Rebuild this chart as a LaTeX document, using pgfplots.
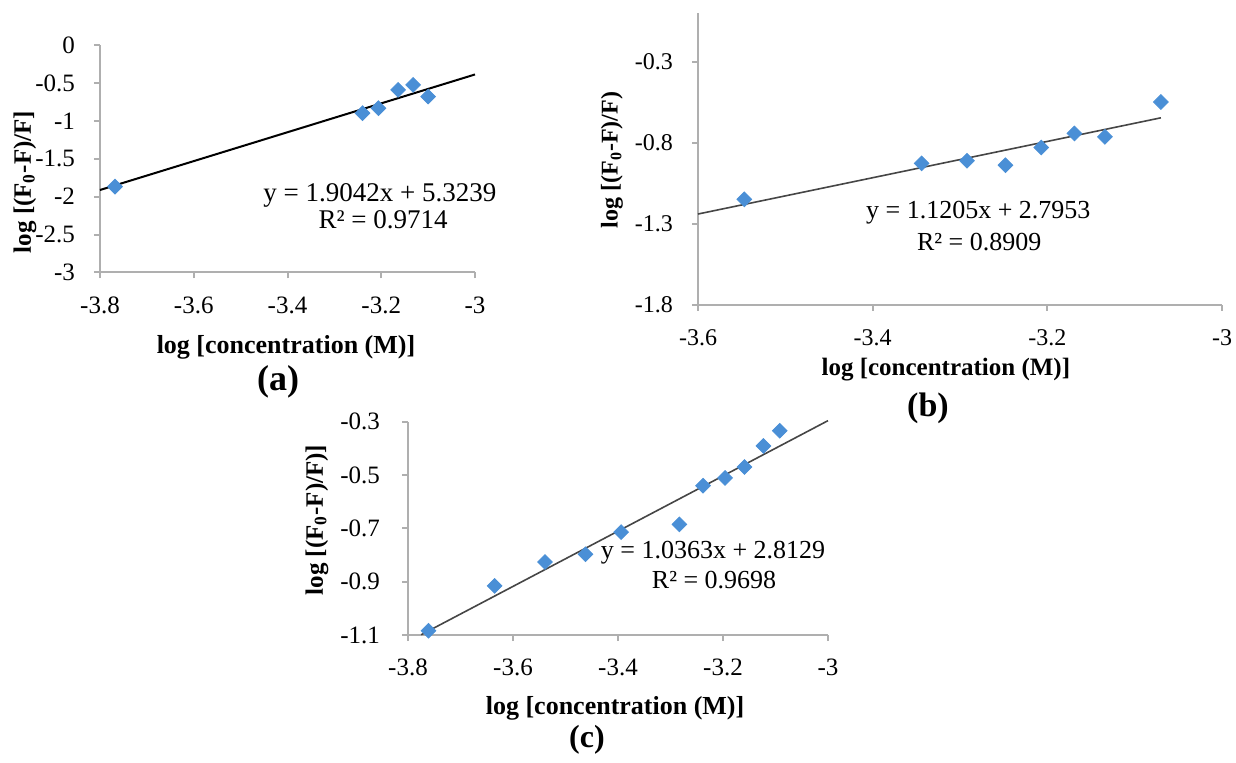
\documentclass[border=0pt]{standalone}
\usepackage{pgfplots}
\pgfplotsset{compat=1.18}
\usepackage{fontspec}
\setmainfont{Liberation Serif}
\definecolor{mk}{RGB}{74,143,214}
\definecolor{axgray}{RGB}{175,175,175}
\definecolor{tl}{RGB}{70,70,70}
\newcommand{\fs}[1]{\fontsize{#1}{#1}\selectfont}
\begin{document}
\begin{tikzpicture}
\useasboundingbox (0,0) rectangle (618pt,-381.5pt);
\pgfplotsset{
  panel/.style={
    scale only axis, anchor=south west, axis lines=left,
    axis line style={-, axgray, line width=1pt},
    tick style={axgray, line width=1pt}, tick align=outside, major tick length=3pt,
    clip=false,
    xticklabel style={anchor=center},
    yticklabel style={anchor=east},
  },
  dots/.style={only marks, mark=square*, mark size=2.6pt, color=mk,
    mark options={rotate=45, fill=mk, draw=mk}},
}
% (a)
\begin{axis}[panel, at={(50pt,-136.25pt)}, width=187.5pt, height=113.75pt,
  xmin=-3.8, xmax=-3, ymin=-3, ymax=0,
  xtick={-3.8,-3.6,-3.4,-3.2,-3}, xticklabels={-3.8,-3.6,-3.4,-3.2,-3},
  ytick={0,-0.5,-1,-1.5,-2,-2.5,-3}, yticklabels={0,-0.5,-1,-1.5,-2,-2.5,-3},
  ticklabel style={font=\fs{12.5}},
  xticklabel style={yshift=-13.5pt},
  yticklabel style={xshift=-6pt},
  xlabel={log [concentration (M)]},
  xlabel style={font=\bfseries\fs{13}, at={(axis description cs:0.496,-0.327)}, anchor=center},
  ylabel={log [(F\textsubscript{0}-F)/F]},
  ylabel style={font=\bfseries\fs{12.5}, at={(axis description cs:-0.2,0.398)}, anchor=center},
]
\addplot[dots] coordinates {(-3.768,-1.868) (-3.240,-0.899) (-3.206,-0.833) (-3.164,-0.592) (-3.132,-0.526) (-3.100,-0.680)};
\addplot[black, line width=1pt, no marks] coordinates {(-3.8,-1.9121) (-3.0,-0.3887)};
\node[font=\fs{13.5}] at (axis cs:-3.203,-1.978) {y = 1.9042x + 5.3239};
\node[font=\fs{13.5}] at (axis cs:-3.196,-2.308) {R² = 0.9714};
\end{axis}
% (b)
\begin{axis}[panel, at={(349pt,-152.5pt)}, width=262pt, height=145.8pt,
  xmin=-3.6, xmax=-3, ymin=-1.8, ymax=0,
  xtick={-3.6,-3.4,-3.2,-3}, xticklabels={-3.6,-3.4,-3.2,-3},
  ytick={-1.8,-1.3,-0.8,-0.3}, yticklabels={-1.8,-1.3,-0.8,-0.3},
  ticklabel style={font=\fs{12}},
  xticklabel style={yshift=-13.5pt},
  yticklabel style={xshift=-6pt},
  xlabel={log [concentration (M)]},
  xlabel style={font=\bfseries\fs{12.5}, at={(axis description cs:0.473,-0.223)}, anchor=center},
  ylabel={log [(F\textsubscript{0}-F)/F)},
  ylabel style={font=\bfseries\fs{12}, at={(axis description cs:-0.164,0.497)}, anchor=center},
]
\addplot[dots] coordinates {(-3.547,-1.148) (-3.344,-0.926) (-3.292,-0.910) (-3.248,-0.937) (-3.207,-0.828) (-3.169,-0.741) (-3.134,-0.762) (-3.070,-0.547)};
\addplot[tl, line width=0.8pt, no marks] coordinates {(-3.6,-1.2385) (-3.07,-0.6446)};
\node[font=\fs{13}] at (axis cs:-3.279,-1.232) {y = 1.1205x + 2.7953};
\node[font=\fs{13}] at (axis cs:-3.278,-1.411) {R² = 0.8909};
\end{axis}
% (c)
\begin{axis}[panel, at={(204pt,-317.5pt)}, width=210pt, height=106.65pt,
  xmin=-3.8, xmax=-3, ymin=-1.1, ymax=-0.3,
  xtick={-3.8,-3.6,-3.4,-3.2,-3}, xticklabels={-3.8,-3.6,-3.4,-3.2,-3},
  ytick={-1.1,-0.9,-0.7,-0.5,-0.3}, yticklabels={-1.1,-0.9,-0.7,-0.5,-0.3},
  ticklabel style={font=\fs{12.5}},
  xticklabel style={yshift=-13.3pt},
  yticklabel style={xshift=-7.5pt},
  xlabel={log [concentration (M)]},
  xlabel style={font=\bfseries\fs{13}, at={(axis description cs:0.493,-0.342)}, anchor=center},
  ylabel={log [(F\textsubscript{0}-F)/F)]},
  ylabel style={font=\bfseries\fs{12.5}, at={(axis description cs:-0.217,0.539)}, anchor=center},
]
\addplot[dots] coordinates {(-3.761,-1.084) (-3.635,-0.916) (-3.539,-0.826) (-3.462,-0.797) (-3.394,-0.714) (-3.283,-0.685) (-3.238,-0.540) (-3.196,-0.511) (-3.159,-0.470) (-3.123,-0.391) (-3.092,-0.334)};
\addplot[tl, line width=0.8pt, no marks] coordinates {(-3.775,-1.0991) (-3.0,-0.2960)};
\node[font=\fs{13}] at (axis cs:-3.219,-0.792) {y = 1.0363x + 2.8129};
\node[font=\fs{13}] at (axis cs:-3.217,-0.894) {R² = 0.9698};
\end{axis}
\node[font=\bfseries\fs{18}] at (139pt,-191pt) {(a)};
\node[font=\bfseries\fs{17}] at (464pt,-204pt) {(b)};
\node[font=\bfseries\fs{16}] at (293.5pt,-370pt) {(c)};
\end{tikzpicture}
\end{document}
